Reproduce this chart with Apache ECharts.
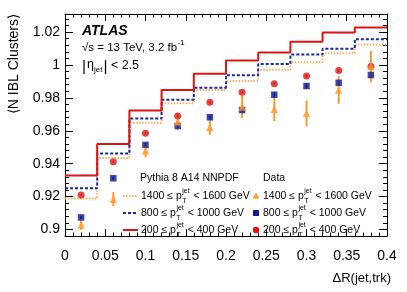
<!DOCTYPE html>
<html><head><meta charset="utf-8">
<script src="https://cdn.jsdelivr.net/npm/echarts@6/dist/echarts.min.js"></script>
<style>html,body{margin:0;padding:0;background:#fff}#c{width:407px;height:292px}</style>
</head><body><div id="c"></div>
<script>
// ---- data ----
const binEdges = [0, 0.04, 0.08, 0.12, 0.16, 0.20, 0.24, 0.28, 0.32, 0.36, 0.40];
const binCenters = [0.02, 0.06, 0.10, 0.14, 0.18, 0.22, 0.26, 0.30, 0.34, 0.38];
// Pythia 8 A14 NNPDF (histograms)
const mc200 = [0.9328, 0.9520, 0.9723, 0.9848, 0.9947, 1.0027, 1.0076, 1.0142, 1.0198, 1.0228];
const mc800 = [0.9250, 0.9462, 0.9674, 0.9789, 0.9862, 0.9938, 1.0006, 1.0063, 1.0099, 1.0157];
const mc1400 = [0.9188, 0.9435, 0.9649, 0.9767, 0.9848, 0.9902, 0.9971, 1.0016, 1.0071, 1.0125];
// Data (points)
const data200 = [0.9210, 0.9412, 0.9585, 0.9690, 0.9773, 0.9834, 0.9886, 0.9933, 0.9967, 0.9991];
const data800 = [0.9073, 0.9311, 0.9514, 0.9629, 0.9682, 0.9726, 0.9819, 0.9872, 0.9892, 0.9939];
const data1400 = [0.9027, 0.9184, 0.9479, 0.9655, 0.9621, 0.9745, 0.9731, 0.9706, 0.9848, 0.9990];
const err200 = [0.0005, 0.0005, 0.0005, 0.0005, 0.0006, 0.0006, 0.0006, 0.0007, 0.0007, 0.0008];
const err800 = [0.0010, 0.0010, 0.0011, 0.0012, 0.0013, 0.0014, 0.0015, 0.0016, 0.0017, 0.0018];
const err1400 = [0.0030, 0.0043, 0.0040, 0.0050, 0.0046, 0.0067, 0.0072, 0.0079, 0.0084, 0.0096];
const yTickLabels = [0.90, 0.92, 0.94, 0.96, 0.98, 1.00, 1.02];
const yMin = 0.896, yMax = 1.031;

// ---- style ----
const FONT = "'Liberation Sans', Arial, Helvetica, sans-serif";
const RED = '#dc1414', BLUE = '#1428a0', BLUE_M = '#0a1a8c', ORANGE = '#ff9a2e', ORANGE_L = '#ffae5a';

const yMinor = [];
for (let v = 0.896; v < yMax + 1e-9; v += 0.004) {
  const r = Math.round(v * 1000) / 1000;
  if (!yTickLabels.some(t => Math.abs(t - r) < 1e-6)) yMinor.push(r);
}

function stepData(vals) {
  const d = vals.map((v, i) => [binEdges[i], v]);
  d.push([binEdges[binEdges.length - 1], vals[vals.length - 1]]);
  return d;
}
function errSeries(vals, errs, color, lw) {
  return {
    type: 'custom', xAxisIndex: 0, yAxisIndex: 0, z: 4, silent: true,
    data: binCenters.map((x, i) => [x, vals[i], errs[i]]),
    renderItem: (p, api) => {
      const x = api.value(0), y = api.value(1), e = api.value(2);
      const a = api.coord([x, y - e]), b = api.coord([x, y + e]);
      return { type: 'line', shape: { x1: a[0], y1: a[1], x2: b[0], y2: b[1] }, style: { stroke: color, lineWidth: lw } };
    }
  };
}

const cv = document.createElement('canvas').getContext('2d');
function tw(t, size, w, st) { cv.font = `${st || 'normal'} ${w || 'normal'} ${size}px ${FONT}`; return cv.measureText(t).width; }
function txt(x, y, t, size, extra) {
  return { type: 'text', x: x, y: y, silent: true, z: 100,
    style: Object.assign({ text: t, fontSize: size, fontFamily: FONT, fill: '#000', align: 'left', verticalAlign: 'middle' }, extra || {}) };
}
function ptLabel(x, y, pre, post, s) {
  const ss = s * 0.66;
  const w = tw(pre, s);
  const w2 = Math.max(tw('jet', ss), tw('T', ss));
  return [txt(x, y, pre, s), txt(x + w + 0.5, y - s * 0.5, 'jet', ss), txt(x + w + 0.5, y + s * 0.45, 'T', ss),
          txt(x + w + w2 + 1.5, y, post, s)];
}

const LS = 10.5;
const graphics = [];
// ATLAS label
graphics.push(txt(82, 31, 'ATLAS', 14, { fontWeight: 'bold', fontStyle: 'italic' }));
const SQ = 11.5;
const sq = '√s = 13 TeV, 3.2 fb';
graphics.push(txt(82, 47.5, sq, SQ));
graphics.push(txt(82 + tw(sq, SQ) + 0.5, 43, '-1', 8));
const EF = 12.5;
graphics.push(txt(82, 66.5, '|', 15.5));
const wb = tw('|', 15.5);
graphics.push(txt(82 + wb + 1, 65, 'η', EF));
const we = wb + 1 + tw('η', EF);
graphics.push(txt(82 + we, 69.5, 'jet', 8));
const wj = we + tw('jet', 8) + 1;
graphics.push(txt(82 + wj, 66.5, '|', 15.5));
graphics.push(txt(82 + wj + wb, 66, ' < 2.5', EF));
// axis titles
const yt = txt(14, 14, '⟨N IBL Clusters⟩', 14, { align: 'right' });
yt.rotation = Math.PI / 2;
graphics.push(yt);
graphics.push(txt(391, 278, 'ΔR(jet,trk)', 13, { align: 'right' }));
// legend
const rows = [196, 213, 230];
graphics.push(txt(140, 178, 'Pythia 8 A14 NNPDF', LS));
graphics.push(txt(263, 178, 'Data', LS));
const lineStyles = [
  { stroke: ORANGE_L, lineWidth: 2, lineDash: [1.5, 1.5] },
  { stroke: BLUE, lineWidth: 2, lineDash: [3, 2] },
  { stroke: RED, lineWidth: 2 }
];
const labels = [['1400 ≤ p', ' < 1600 GeV'], ['800 ≤ p', ' < 1000 GeV'], ['200 ≤ p', ' < 400 GeV']];
rows.forEach((y, i) => {
  graphics.push({ type: 'line', silent: true, z: 100, shape: { x1: 123, y1: y, x2: 138, y2: y }, style: lineStyles[i] });
  ptLabel(141, y, labels[i][0], labels[i][1], LS).forEach(g => graphics.push(g));
  ptLabel(263, y, labels[i][0], labels[i][1], LS).forEach(g => graphics.push(g));
});
graphics.push({ type: 'polygon', silent: true, z: 100, shape: { points: [[256, rows[0] - 3.5], [259.5, rows[0] + 2.5], [252.5, rows[0] + 2.5]] }, style: { fill: ORANGE } });
graphics.push({ type: 'rect', silent: true, z: 100, shape: { x: 253, y: rows[1] - 3, width: 6, height: 6 }, style: { fill: BLUE_M } });
graphics.push({ type: 'circle', silent: true, z: 100, shape: { cx: 256, cy: rows[2], r: 3.2 }, style: { fill: RED } });

const chart = echarts.init(document.getElementById('c'), null, { renderer: 'canvas' });
const axLine = { show: true, lineStyle: { color: '#000', width: 1 } };
const xBase = { type: 'value', min: 0, max: 0.4, interval: 0.05, splitLine: { show: false }, axisLine: axLine };
const yBase = { type: 'value', min: yMin, max: yMax, splitLine: { show: false } };
chart.setOption({
  animation: false,
  backgroundColor: '#fff',
  grid: { left: 65, right: 20, top: 14, bottom: 56 },
  xAxis: [
    Object.assign({}, xBase, { position: 'bottom',
      axisTick: { inside: true, length: 7, lineStyle: { color: '#000' } },
      minorTick: { show: true, splitNumber: 5, length: 3.5, lineStyle: { color: '#000' } },
      axisLabel: { fontSize: 14, fontFamily: FONT, color: '#000', margin: 13,
        formatter: v => String(+v.toFixed(2)) } }),
    Object.assign({}, xBase, { position: 'top',
      axisTick: { inside: true, length: 7, lineStyle: { color: '#000' } },
      minorTick: { show: true, splitNumber: 5, length: 3.5, lineStyle: { color: '#000' } },
      axisLabel: { show: false } })
  ],
  yAxis: [
    Object.assign({}, yBase, { position: 'left', axisLine: axLine,
      axisTick: { inside: true, length: 8, customValues: yTickLabels, lineStyle: { color: '#000' } },
      axisLabel: { fontSize: 14, fontFamily: FONT, color: '#000', margin: 5, customValues: yTickLabels,
        formatter: v => String(+v.toFixed(2)) } }),
    Object.assign({}, yBase, { position: 'left', axisLine: { show: false },
      axisTick: { inside: true, length: 4, customValues: yMinor, lineStyle: { color: '#000' } },
      axisLabel: { show: false } }),
    Object.assign({}, yBase, { position: 'right', axisLine: axLine,
      axisTick: { inside: true, length: 8, customValues: yTickLabels, lineStyle: { color: '#000' } },
      axisLabel: { show: false } }),
    Object.assign({}, yBase, { position: 'right', axisLine: { show: false },
      axisTick: { inside: true, length: 4, customValues: yMinor, lineStyle: { color: '#000' } },
      axisLabel: { show: false } })
  ],
  series: [
    { type: 'line', step: 'end', data: stepData(mc1400), showSymbol: false, silent: true, z: 2,
      lineStyle: { color: ORANGE_L, width: 2, type: [1.5, 1.5] } },
    { type: 'line', step: 'end', data: stepData(mc800), showSymbol: false, silent: true, z: 2,
      lineStyle: { color: BLUE, width: 2, type: [3, 2] } },
    { type: 'line', step: 'end', data: stepData(mc200), showSymbol: false, silent: true, z: 2,
      lineStyle: { color: RED, width: 2 } },
    errSeries(data200, err200, RED, 1.5),
    { type: 'scatter', z: 5, silent: true, symbol: 'circle', symbolSize: 7, itemStyle: { color: RED },
      data: binCenters.map((x, i) => [x, data200[i]]) },
    errSeries(data800, err800, BLUE_M, 1.5),
    { type: 'scatter', z: 6, silent: true, symbol: 'rect', symbolSize: 6.5, itemStyle: { color: BLUE_M },
      data: binCenters.map((x, i) => [x, data800[i]]) },
    errSeries(data1400, err1400, ORANGE, 2),
    { type: 'scatter', z: 7, silent: true, symbol: 'triangle', symbolSize: 7.5, itemStyle: { color: ORANGE },
      data: binCenters.map((x, i) => [x, data1400[i]]) }
  ],
  graphic: graphics
});
</script></body></html>
